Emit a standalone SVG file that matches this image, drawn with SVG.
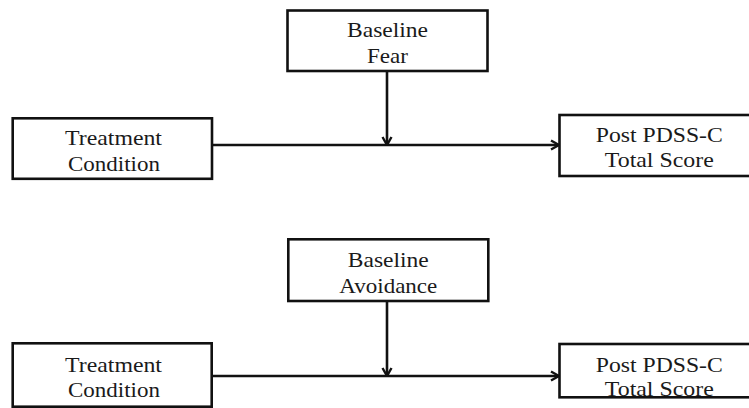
<svg xmlns="http://www.w3.org/2000/svg" width="749" height="408" viewBox="0 0 749 408">
<style>
.box{fill:#fff;stroke:#111;stroke-width:2.6}
.lbl{font-family:"Liberation Serif","Times New Roman",serif;font-size:21px;fill:#1a1a1a;text-anchor:middle}
.edge{fill:none;stroke:#111;stroke-width:2.6}
</style>
<defs>
<marker id="arr" viewBox="0 0 12 12" refX="11" refY="6" markerWidth="12" markerHeight="12" markerUnits="userSpaceOnUse" orient="auto">
<path d="M3,1.5 L11,6 L3,10.5" fill="none" stroke="#111" stroke-width="2.4"/>
</marker>
</defs>
<rect width="749" height="408" fill="#fff"/>
<g id="connectors">
<path class="edge" d="M212,145 H559" marker-end="url(#arr)"/>
<path class="edge" d="M387,71 V145" marker-end="url(#arr)"/>
<path class="edge" d="M212,376 H559" marker-end="url(#arr)"/>
<path class="edge" d="M387,301 V376" marker-end="url(#arr)"/>
</g>
<g id="fear">
<rect class="box" x="287.5" y="10.5" width="200" height="60.5"/>
<text class="lbl" x="387.5" y="36.7" textLength="81" lengthAdjust="spacingAndGlyphs">Baseline</text>
<text class="lbl" x="387.5" y="62.7" textLength="41" lengthAdjust="spacingAndGlyphs">Fear</text>
</g>
<g id="treat1">
<rect class="box" x="12.7" y="118.3" width="199.3" height="60.5"/>
<text class="lbl" x="113.5" y="145" textLength="97" lengthAdjust="spacingAndGlyphs">Treatment</text>
<text class="lbl" x="114" y="170.7" textLength="92" lengthAdjust="spacingAndGlyphs">Condition</text>
</g>
<g id="post1">
<rect class="box" x="559.5" y="115" width="202" height="61"/>
<text class="lbl" x="659.3" y="142.3" textLength="127" lengthAdjust="spacingAndGlyphs">Post PDSS-C</text>
<text class="lbl" x="659.3" y="166.7" textLength="109" lengthAdjust="spacingAndGlyphs">Total Score</text>
</g>
<g id="avoid">
<rect class="box" x="288.3" y="239.3" width="200" height="61.7"/>
<text class="lbl" x="388.3" y="266.7" textLength="81" lengthAdjust="spacingAndGlyphs">Baseline</text>
<text class="lbl" x="388.3" y="292.7" textLength="98" lengthAdjust="spacingAndGlyphs">Avoidance</text>
</g>
<g id="treat2">
<rect class="box" x="12.7" y="343.3" width="199" height="63.4"/>
<text class="lbl" x="113.5" y="371.7" textLength="97" lengthAdjust="spacingAndGlyphs">Treatment</text>
<text class="lbl" x="114" y="396.7" textLength="92" lengthAdjust="spacingAndGlyphs">Condition</text>
</g>
<g id="post2">
<rect class="box" x="559.5" y="344" width="202" height="53.3"/>
<text class="lbl" x="659.3" y="371.7" textLength="127" lengthAdjust="spacingAndGlyphs">Post PDSS-C</text>
<text class="lbl" x="659.3" y="395.7" textLength="109" lengthAdjust="spacingAndGlyphs">Total Score</text>
</g>
</svg>
